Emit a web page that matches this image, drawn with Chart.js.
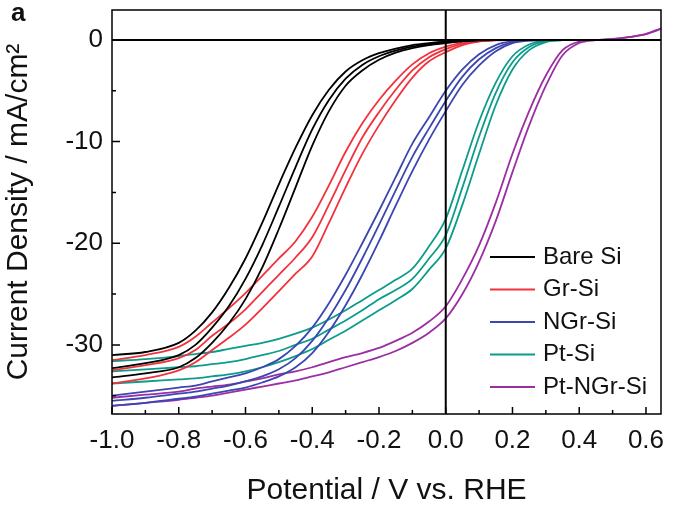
<!DOCTYPE html>
<html>
<head>
<meta charset="utf-8">
<script src="https://cdn.jsdelivr.net/npm/chart.js@4.4.1/dist/chart.umd.min.js"></script>
<style>
  html, body { margin: 0; padding: 0; background: #fff; }
  #wrap { width: 681px; height: 514px; }
</style>
</head>
<body>
<div id="wrap"><canvas id="lsv-chart" width="681" height="514"></canvas></div>
<script>
// Potential grid (V vs. RHE) shared by every sweep
const potential = [-1.0, -0.9, -0.8, -0.75, -0.7, -0.65, -0.6, -0.55, -0.5, -0.45, -0.4, -0.35, -0.3, -0.25, -0.2, -0.15,
                   -0.1, -0.05, 0, 0.05, 0.1, 0.15, 0.2, 0.25, 0.3, 0.35, 0.4, 0.45, 0.5, 0.55, 0.6, 0.65];

// Current density (mA/cm2), three sweeps per sample
const bareSi1 = [-31.0, -30.7, -29.8, -28.6, -26.8, -24.4, -21.5, -18.0, -14.2, -10.6, -7.4, -4.9, -3.1, -2.0, -1.3, -0.85,
                 -0.5, -0.3, -0.15, -0.05, 0, 0, 0, 0, 0, 0, 0, 0, 0, 0, 0, 0];
const bareSi2 = [-32.3, -31.8, -31.0, -30.0, -28.3, -26.2, -23.5, -20.2, -16.4, -12.5, -8.8, -5.9, -3.8, -2.45, -1.6, -1.05,
                 -0.65, -0.4, -0.25, -0.1, -0.02, 0, 0, 0, 0, 0, 0, 0, 0, 0, 0, 0];
const bareSi3 = [-33.2, -32.8, -32.2, -31.3, -29.8, -27.9, -25.5, -22.4, -18.6, -14.5, -10.4, -7.0, -4.5, -3.0, -1.95, -1.25,
                 -0.8, -0.5, -0.3, -0.12, -0.03, 0, 0, 0, 0, 0, 0, 0, 0, 0, 0, 0];

const grSi1 = [-31.5, -31.0, -30.2, -29.2, -27.8, -26.4, -24.9, -23.2, -21.5, -19.8, -17.4, -14.3, -11.0, -8.2, -5.9, -4.0,
               -2.4, -1.3, -0.65, -0.25, -0.05, 0, 0, 0, 0, 0, 0, 0, 0, 0, 0, 0];
const grSi2 = [-32.5, -32.0, -31.3, -30.5, -29.1, -27.9, -26.5, -24.8, -23.1, -21.4, -19.4, -16.2, -12.8, -9.6, -7.1, -4.9,
               -3.0, -1.7, -0.9, -0.35, -0.1, -0.02, 0, 0, 0, 0, 0, 0, 0, 0, 0, 0];
const grSi3 = [-33.8, -33.3, -32.5, -31.7, -30.5, -29.3, -28.0, -26.4, -24.7, -23.0, -21.3, -18.0, -14.5, -11.2, -8.4, -5.9,
               -3.7, -2.1, -1.2, -0.5, -0.15, -0.03, 0, 0, 0, 0, 0, 0, 0, 0, 0, 0];

const ngrSi1 = [-35.0, -34.6, -34.2, -34.0, -33.6, -33.2, -32.8, -32.2, -31.4, -30.1, -28.3, -25.9, -23.1, -20.0, -16.8, -13.5,
                -10.2, -7.6, -5.0, -2.9, -1.4, -0.5, -0.12, 0, 0, 0, 0, 0, 0, 0, 0, 0];
const ngrSi2 = [-35.5, -35.2, -34.8, -34.6, -34.3, -34.0, -33.6, -33.1, -32.4, -31.3, -29.6, -27.3, -24.6, -21.5, -18.2, -14.8,
                -11.5, -8.7, -6.0, -3.6, -1.9, -0.8, -0.2, -0.03, 0, 0, 0, 0, 0, 0, 0, 0];
const ngrSi3 = [-36.0, -35.7, -35.3, -35.1, -34.8, -34.5, -34.2, -33.7, -33.1, -32.2, -30.8, -28.7, -26.1, -23.1, -19.8, -16.3,
                -12.9, -9.8, -7.0, -4.4, -2.5, -1.1, -0.3, -0.06, 0, 0, 0, 0, 0, 0, 0, 0];

const ptSi1 = [-31.6, -31.4, -31.1, -30.9, -30.7, -30.4, -30.1, -29.8, -29.4, -28.9, -28.3, -27.5, -26.6, -25.6, -24.6, -23.6,
               -22.5, -20.3, -17.6, -12.8, -8.0, -4.2, -1.6, -0.45, -0.06, 0, 0, 0, 0, 0, 0, 0];
const ptSi2 = [-32.6, -32.4, -32.2, -32.1, -31.9, -31.7, -31.4, -31.0, -30.6, -30.0, -29.4, -28.5, -27.6, -26.6, -25.5, -24.6,
               -23.5, -21.5, -19.2, -14.5, -9.5, -5.2, -2.2, -0.7, -0.12, 0, 0, 0, 0, 0, 0, 0];
const ptSi3 = [-33.8, -33.6, -33.4, -33.3, -33.1, -32.9, -32.6, -32.2, -31.7, -31.1, -30.4, -29.5, -28.6, -27.6, -26.6, -25.6,
               -24.5, -22.6, -20.5, -16.2, -11.2, -6.4, -2.9, -1.0, -0.2, -0.02, 0, 0, 0, 0, 0, 0];

const ptNgrSi1 = [-35.2, -34.9, -34.6, -34.3, -34.1, -33.9, -33.6, -33.3, -32.9, -32.6, -32.2, -31.7, -31.2, -30.8, -30.3, -29.6,
                  -28.8, -27.7, -26.2, -23.5, -20.2, -16.0, -11.2, -7.0, -3.5, -1.0, -0.15, 0, 0.1, 0.3, 0.6, 1.2];
const ptNgrSi2 = [-36.0, -35.7, -35.4, -35.2, -35.0, -34.7, -34.4, -34.1, -33.8, -33.5, -33.1, -32.7, -32.2, -31.7, -31.2, -30.6,
                  -29.8, -28.8, -27.4, -25.0, -21.8, -17.8, -13.0, -8.4, -4.5, -1.5, -0.3, -0.02, 0.08, 0.28, 0.58, 1.15];

const sampleNames = ['Bare Si', 'Gr-Si', 'NGr-Si', 'Pt-Si', 'Pt-NGr-Si'];
const sampleColors = ['#000000', '#f2323c', '#3b46b2', '#0b9c8b', '#9b2ea3'];
const sampleSweeps = [
    [bareSi1, bareSi2, bareSi3],
    [grSi1, grSi2, grSi3],
    [ngrSi1, ngrSi2, ngrSi3],
    [ptSi1, ptSi2, ptSi3],
    [ptNgrSi1, ptNgrSi2]
];

const xTicks = [-1.0, -0.8, -0.6, -0.4, -0.2, 0, 0.2, 0.4, 0.6];
const xMinorTicks = [-0.9, -0.7, -0.5, -0.3, -0.1, 0.1, 0.3, 0.5];
const yTicks = [-30, -20, -10, 0];
const yMinorTicks = [-35, -25, -15, -5];

const FONT = '"Liberation Sans", Arial, sans-serif';

// one dataset per sweep, same colour within a sample
const datasets = [];
sampleSweeps.forEach((sweeps, i) => {
    sweeps.forEach(ys => {
        datasets.push({
            label: sampleNames[i],
            data: potential.map((x, k) => ({ x: x, y: ys[k] })),
            borderColor: sampleColors[i],
            borderWidth: 1.8,
            pointRadius: 0,
            fill: false,
            cubicInterpolationMode: 'monotone'
        });
    });
});

// frame, zero lines, inward ticks, legend and panel letter
const framePlugin = {
    id: 'frame',
    afterDatasetsDraw(chart) {
        const { ctx, chartArea: a, scales: { x, y } } = chart;
        ctx.save();
        ctx.strokeStyle = '#000';

        ctx.lineWidth = 2;
        const x0 = x.getPixelForValue(0);
        const y0 = y.getPixelForValue(0);
        ctx.beginPath();
        ctx.moveTo(a.left, y0);
        ctx.lineTo(a.right, y0);
        ctx.moveTo(x0, a.top);
        ctx.lineTo(x0, a.bottom);
        ctx.stroke();

        ctx.lineWidth = 1.5;
        ctx.strokeRect(a.left, a.top, a.right - a.left, a.bottom - a.top);

        ctx.beginPath();
        xTicks.forEach(v => { const p = x.getPixelForValue(v); ctx.moveTo(p, a.bottom); ctx.lineTo(p, a.bottom - 7); });
        xMinorTicks.forEach(v => { const p = x.getPixelForValue(v); ctx.moveTo(p, a.bottom); ctx.lineTo(p, a.bottom - 4); });
        yTicks.forEach(v => { const p = y.getPixelForValue(v); ctx.moveTo(a.left, p); ctx.lineTo(a.left + 8, p); });
        yMinorTicks.forEach(v => { const p = y.getPixelForValue(v); ctx.moveTo(a.left, p); ctx.lineTo(a.left + 4, p); });
        ctx.stroke();
        ctx.restore();
    },
    afterDraw(chart) {
        const ctx = chart.ctx;
        ctx.save();
        ctx.font = '24px ' + FONT;
        ctx.textBaseline = 'middle';
        sampleNames.forEach((name, i) => {
            const rowY = 257 + i * 32.5;
            ctx.strokeStyle = sampleColors[i];
            ctx.lineWidth = 2;
            ctx.beginPath();
            ctx.moveTo(490, rowY);
            ctx.lineTo(535, rowY);
            ctx.stroke();
            ctx.fillStyle = '#111';
            ctx.fillText(name, 543, rowY);
        });
        ctx.font = 'bold 26px ' + FONT;
        ctx.textBaseline = 'alphabetic';
        ctx.fillText('a', 11, 21);
        ctx.restore();
    }
};

const fmt = v => (Math.abs(v) < 1e-9 ? 0 : v);

new Chart(document.getElementById('lsv-chart'), {
    type: 'line',
    data: { datasets: datasets },
    options: {
        responsive: false,
        animation: false,
        layout: { padding: { top: 10, right: 20, left: 0, bottom: 0 } },
        plugins: { legend: { display: false }, tooltip: { enabled: false } },
        scales: {
            x: {
                type: 'linear',
                min: -1.0,
                max: 0.645,
                afterBuildTicks: axis => { axis.ticks = xTicks.map(v => ({ value: v })); },
                afterFit: axis => {
                    axis.height = 100;
                    axis.paddingLeft = 0;
                    axis.paddingRight = 0;
                },
                grid: { display: false, drawTicks: false },
                border: { display: false },
                ticks: {
                    padding: 11,
                    color: '#111',
                    font: { family: FONT, size: 26 },
                    maxRotation: 0,
                    callback: v => fmt(v).toFixed(1)
                },
                title: {
                    display: true,
                    text: 'Potential / V vs. RHE',
                    color: '#111',
                    font: { family: FONT, size: 30 },
                    padding: { top: 0, bottom: 5 }
                }
            },
            y: {
                min: -36.8,
                max: 2.95,
                afterBuildTicks: axis => { axis.ticks = yTicks.map(v => ({ value: v })); },
                afterFit: axis => {
                    axis.width = 112;
                    axis.paddingTop = 0;
                    axis.paddingBottom = 0;
                },
                grid: { display: false, drawTicks: false },
                border: { display: false },
                ticks: {
                    padding: 9,
                    color: '#111',
                    font: { family: FONT, size: 26 },
                    callback: v => String(fmt(v))
                },
                title: {
                    display: true,
                    text: 'Current Density / mA/cm\u00B2',
                    color: '#111',
                    font: { family: FONT, size: 30 },
                    padding: { top: 1, bottom: 0 }
                }
            }
        }
    },
    plugins: [framePlugin]
});
</script>
</body>
</html>
